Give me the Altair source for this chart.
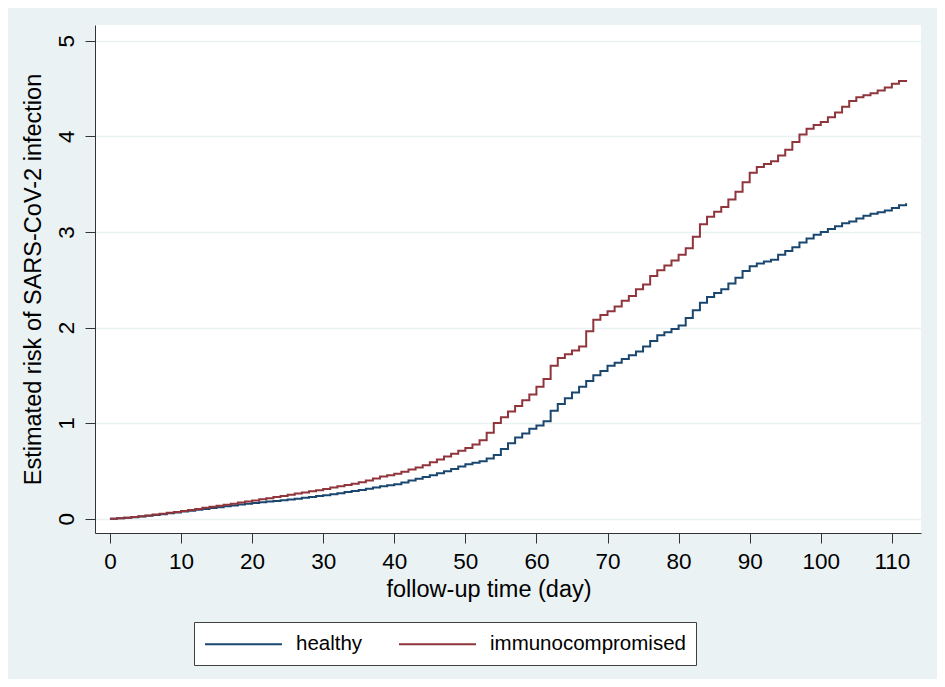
import altair as alt
import pandas as pd

days = list(range(0, 113))

healthy = [
    0.000, 0.004, 0.010, 0.016, 0.023, 0.030, 0.038, 0.047, 0.056, 0.065,
    0.075, 0.084, 0.093, 0.102, 0.111, 0.120, 0.129, 0.138, 0.147, 0.156,
    0.165, 0.172, 0.179, 0.186, 0.193, 0.200, 0.209, 0.218, 0.227, 0.236,
    0.245, 0.256, 0.267, 0.278, 0.289, 0.300, 0.313, 0.326, 0.340, 0.350,
    0.360, 0.379, 0.398, 0.417, 0.436, 0.455, 0.474, 0.495, 0.520, 0.545,
    0.570, 0.585, 0.600, 0.630, 0.665, 0.730, 0.790, 0.850, 0.890, 0.940,
    0.975, 1.020, 1.130, 1.200, 1.260, 1.320, 1.380, 1.440, 1.500, 1.545,
    1.600, 1.630, 1.670, 1.710, 1.750, 1.800, 1.860, 1.920, 1.950, 1.985,
    2.020, 2.100, 2.180, 2.260, 2.320, 2.360, 2.400, 2.460, 2.520, 2.590,
    2.640, 2.670, 2.690, 2.710, 2.760, 2.800, 2.840, 2.890, 2.930, 2.970,
    3.000, 3.030, 3.060, 3.090, 3.110, 3.140, 3.170, 3.190, 3.205, 3.225,
    3.250, 3.280, 3.300,
]

immuno = [
    0.000, 0.004, 0.010, 0.017, 0.025, 0.034, 0.043, 0.052, 0.061, 0.070,
    0.080, 0.091, 0.102, 0.113, 0.124, 0.135, 0.146, 0.157, 0.168, 0.179,
    0.190, 0.202, 0.214, 0.226, 0.238, 0.250, 0.262, 0.274, 0.286, 0.298,
    0.310, 0.325, 0.340, 0.353, 0.366, 0.380, 0.400, 0.420, 0.440, 0.455,
    0.470, 0.492, 0.514, 0.536, 0.560, 0.590, 0.620, 0.650, 0.680, 0.710,
    0.740, 0.775, 0.820, 0.900, 1.000, 1.060, 1.120, 1.180, 1.240, 1.300,
    1.380, 1.460, 1.600, 1.680, 1.720, 1.760, 1.800, 1.960, 2.080, 2.130,
    2.170, 2.220, 2.280, 2.330, 2.400, 2.450, 2.540, 2.600, 2.650, 2.700,
    2.760, 2.830, 2.950, 3.080, 3.160, 3.210, 3.260, 3.340, 3.420, 3.520,
    3.620, 3.680, 3.710, 3.740, 3.800, 3.860, 3.940, 4.020, 4.080, 4.120,
    4.150, 4.200, 4.250, 4.310, 4.370, 4.410, 4.430, 4.450, 4.480, 4.510,
    4.550, 4.580, 4.590,
]

groups = ["healthy", "immunocompromised"]
colors = ["#1A476F", "#90353B"]
x_ticks = list(range(0, 111, 10))
y_ticks = [0, 1, 2, 3, 4, 5]

df = pd.concat([
    pd.DataFrame({"day": days, "risk": healthy, "group": groups[0]}),
    pd.DataFrame({"day": days, "risk": immuno, "group": groups[1]}),
])

FONT = "Liberation Sans"

chart = alt.Chart(df).mark_line(interpolate="step-after", strokeWidth=2).encode(
    x=alt.X(
        "day:Q",
        scale=alt.Scale(domain=[-2.1, 114.1], nice=False, zero=False),
        axis=alt.Axis(
            values=x_ticks, grid=False, title="follow-up time (day)",
            domainColor="#333333", tickColor="#333333", tickSize=10,
            labelFontSize=22.5, labelPadding=7, labelFont=FONT, labelColor="#000000",
            titleFont=FONT, titleFontSize=23.5, titleFontWeight="normal", titleColor="#000000",
            titleX=393.5, titleY=63, titleBaseline="alphabetic", titleAlign="center",
        ),
    ),
    y=alt.Y(
        "risk:Q",
        scale=alt.Scale(domain=[-0.15, 5.165], nice=False, zero=False),
        axis=alt.Axis(
            values=y_ticks, grid=True, gridColor="#EAF2F3", gridWidth=1.5,
            title="Estimated risk of SARS-CoV-2 infection",
            domainColor="#333333", tickColor="#333333", tickSize=10,
            labelFontSize=22.5, labelFont=FONT, labelColor="#000000",
            labelAngle=270, labelAlign="center", labelBaseline="alphabetic", labelPadding=12,
            titleFont=FONT, titleFontSize=23.5, titleFontWeight="normal", titleColor="#000000",
            titleAngle=270, titleX=-55, titleY=254, titleBaseline="alphabetic", titleAlign="center",
        ),
    ),
    color=alt.Color(
        "group:N",
        scale=alt.Scale(domain=groups, range=colors),
        legend=alt.Legend(
            title=None, orient="none", legendX=99, legendY=597, direction="horizontal",
            symbolType="M-1,0H6", symbolSize=484, symbolStrokeWidth=2,
            labelOffset=68, columnPadding=32, padding=10, labelLimit=400,
            fillColor="white", strokeColor="#404040",
            labelFontSize=20.5, labelFont=FONT, labelColor="#000000",
        ),
    ),
).properties(
    width=826, height=508,
    background="#EAF2F3",
    padding={"left": 87, "top": 17, "right": 16, "bottom": 146},
    autosize=alt.AutoSizeParams(type="none"),
).configure_view(stroke=None, fill="white")

chart.save("out.html", embed_options={"renderer": "svg", "actions": False})
